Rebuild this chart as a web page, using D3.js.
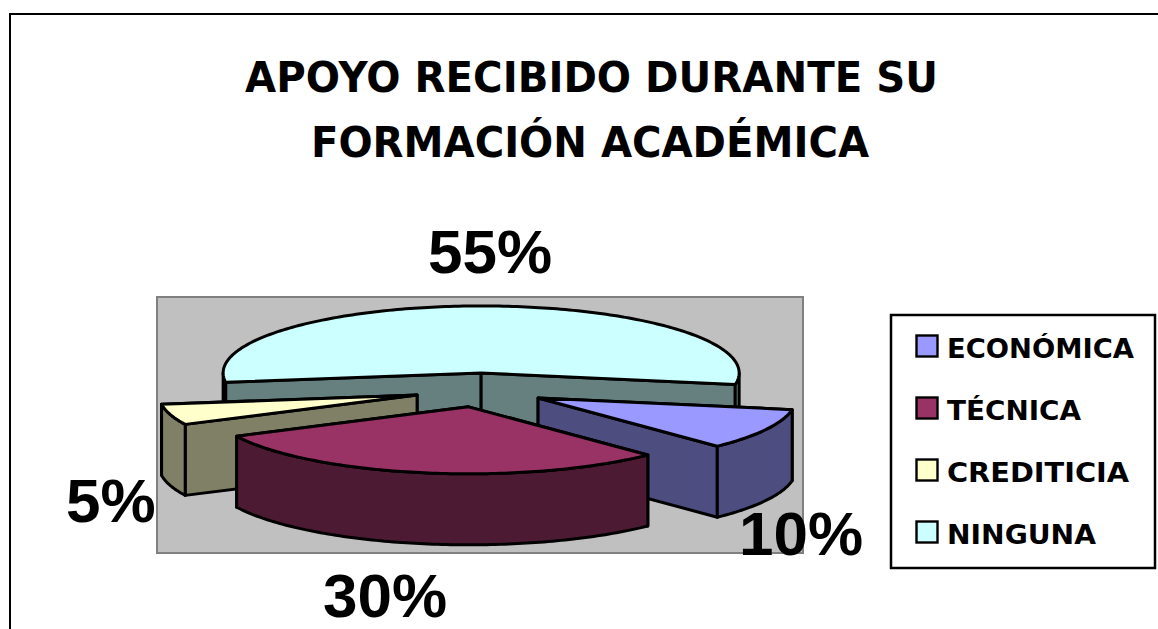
<!DOCTYPE html>
<html><head><meta charset="utf-8">
<style>html,body{margin:0;padding:0;background:#fff;overflow:hidden}svg{display:block}</style>
<script src="https://cdn.jsdelivr.net/npm/d3@7/dist/d3.min.js"></script>
</head><body><svg id="c" width="1158" height="629"></svg>
<script>
const categories = ["ECONÓMICA","TÉCNICA","CREDITICIA","NINGUNA"];
const values = [10,30,5,55];
const percentLabels = ["10%","30%","5%","55%"];
const colors = ["#9999FF","#993366","#FFFFCC","#CCFFFF"];
const titleLines = ["APOYO RECIBIDO DURANTE SU","FORMACIÓN ACADÉMICA"];

const svg = d3.select("#c");
const cx=480, cy=390, rx=258, ry=67, depth=71, explode=0.255, firstAngle=100;
const rad = d3.scaleLinear().domain([0,360]).range([0,2*Math.PI]);
const color = d3.scaleOrdinal().domain(categories).range(colors);
const shade = c => { const r=d3.rgb(c); return d3.rgb(r.r/2,r.g/2,r.b/2).formatHex(); };
const line = d3.line();
const closed = pts => line(pts)+"Z";

// frame
svg.append("rect").attr("x",10).attr("y",14).attr("width",1200).attr("height",700)
  .attr("fill","#fff").attr("stroke","#000").attr("stroke-width",2);

// title
const title = [{x:245,w:693,y:92},{x:311,w:558,y:157}];
svg.selectAll("text.title").data(titleLines).join("text").attr("class","title")
  .attr("x",(d,i)=>title[i].x).attr("y",(d,i)=>title[i].y)
  .attr("textLength",(d,i)=>title[i].w).attr("lengthAdjust","spacingAndGlyphs")
  .attr("font-family","'DejaVu Sans'").attr("font-weight","bold").attr("font-size",42)
  .text(d=>d);

// plot wall
svg.append("rect").attr("x",157).attr("y",297).attr("width",646).attr("height",256)
  .attr("fill","#C0C0C0").attr("stroke","#808080").attr("stroke-width",2);

// pie
const pie = d3.pie().sort(null).value(d=>d.v)
  .startAngle(rad(firstAngle)).endAngle(rad(firstAngle+360));
const arcs = pie(categories.map((k,i)=>({k,v:values[i]})));

function geom(a){
  const mid=(a.startAngle+a.endAngle)/2;
  const ox=cx+Math.sin(mid)*rx*explode, oy=cy-Math.cos(mid)*ry*explode;
  const P=(t,dz=0)=>[ox+Math.sin(t)*rx, oy-Math.cos(t)*ry+dz];
  const samples=(t0,t1,dz=0)=>{
    const n=Math.max(2,Math.ceil((t1-t0)/rad(1)));
    return d3.range(n+1).map(i=>P(t0+(t1-t0)*i/n,dz));
  };
  return {ox,oy,P,samples};
}
function drawSlice(a){
  const g=geom(a), fill=color(a.data.k), dark=shade(fill);
  const G=svg.append("g").attr("stroke","#000").attr("stroke-width",3).attr("stroke-linejoin","round");
  const cut=t=>closed([[g.ox,g.oy],g.P(t),g.P(t,depth),[g.ox,g.oy+depth]]);
  // rear cut face first, so the nearer one paints over it
  [a.startAngle,a.endAngle].sort((p,q)=>g.P(p)[1]-g.P(q)[1])
    .forEach(t=>G.append("path").attr("d",cut(t)).attr("fill",dark));
  [[90,270],[450,630]].forEach(([f0,f1])=>{
    const t0=Math.max(a.startAngle,rad(f0)), t1=Math.min(a.endAngle,rad(f1));
    if(t1>t0) G.append("path").attr("d",closed([...g.samples(t0,t1),...g.samples(t0,t1,depth).reverse()])).attr("fill",dark);
  });
  G.append("path").attr("d",closed([[g.ox,g.oy],...g.samples(a.startAngle,a.endAngle)])).attr("fill",fill);
}
// back-to-front: NINGUNA, CREDITICIA, ECONÓMICA, TÉCNICA
[3,2,0,1].forEach(i=>drawSlice(arcs[i]));

// percent labels
const labelPos=[{x:739,w:122,y:555},{x:323,w:124,y:617},{x:66,w:89,y:522},{x:428,w:124,y:273}];
svg.selectAll("text.pct").data(percentLabels).join("text").attr("class","pct")
  .attr("x",(d,i)=>labelPos[i].x).attr("y",(d,i)=>labelPos[i].y)
  .attr("font-family","'Liberation Sans'").attr("font-weight","bold").attr("font-size",62)
  .text(d=>d);

// legend
svg.append("rect").attr("x",891).attr("y",315).attr("width",264).attr("height",253)
  .attr("fill","#fff").attr("stroke","#000").attr("stroke-width",2.5);
const legendY=d3.scalePoint().domain(categories).range([346,532]);
const legendW=[187,134,182,149];
const lg=svg.selectAll("g.lg").data(categories).join("g").attr("class","lg");
lg.append("rect").attr("x",916.5).attr("y",d=>legendY(d)-10.5).attr("width",21).attr("height",21)
  .attr("fill",d=>color(d)).attr("stroke","#000").attr("stroke-width",2.4);
lg.append("text").attr("x",947).attr("y",d=>legendY(d)+12)
  .attr("textLength",(d,i)=>legendW[i]).attr("lengthAdjust","spacingAndGlyphs")
  .attr("font-family","'DejaVu Sans'").attr("font-weight","bold").attr("font-size",26)
  .text(d=>d);
</script></body></html>
